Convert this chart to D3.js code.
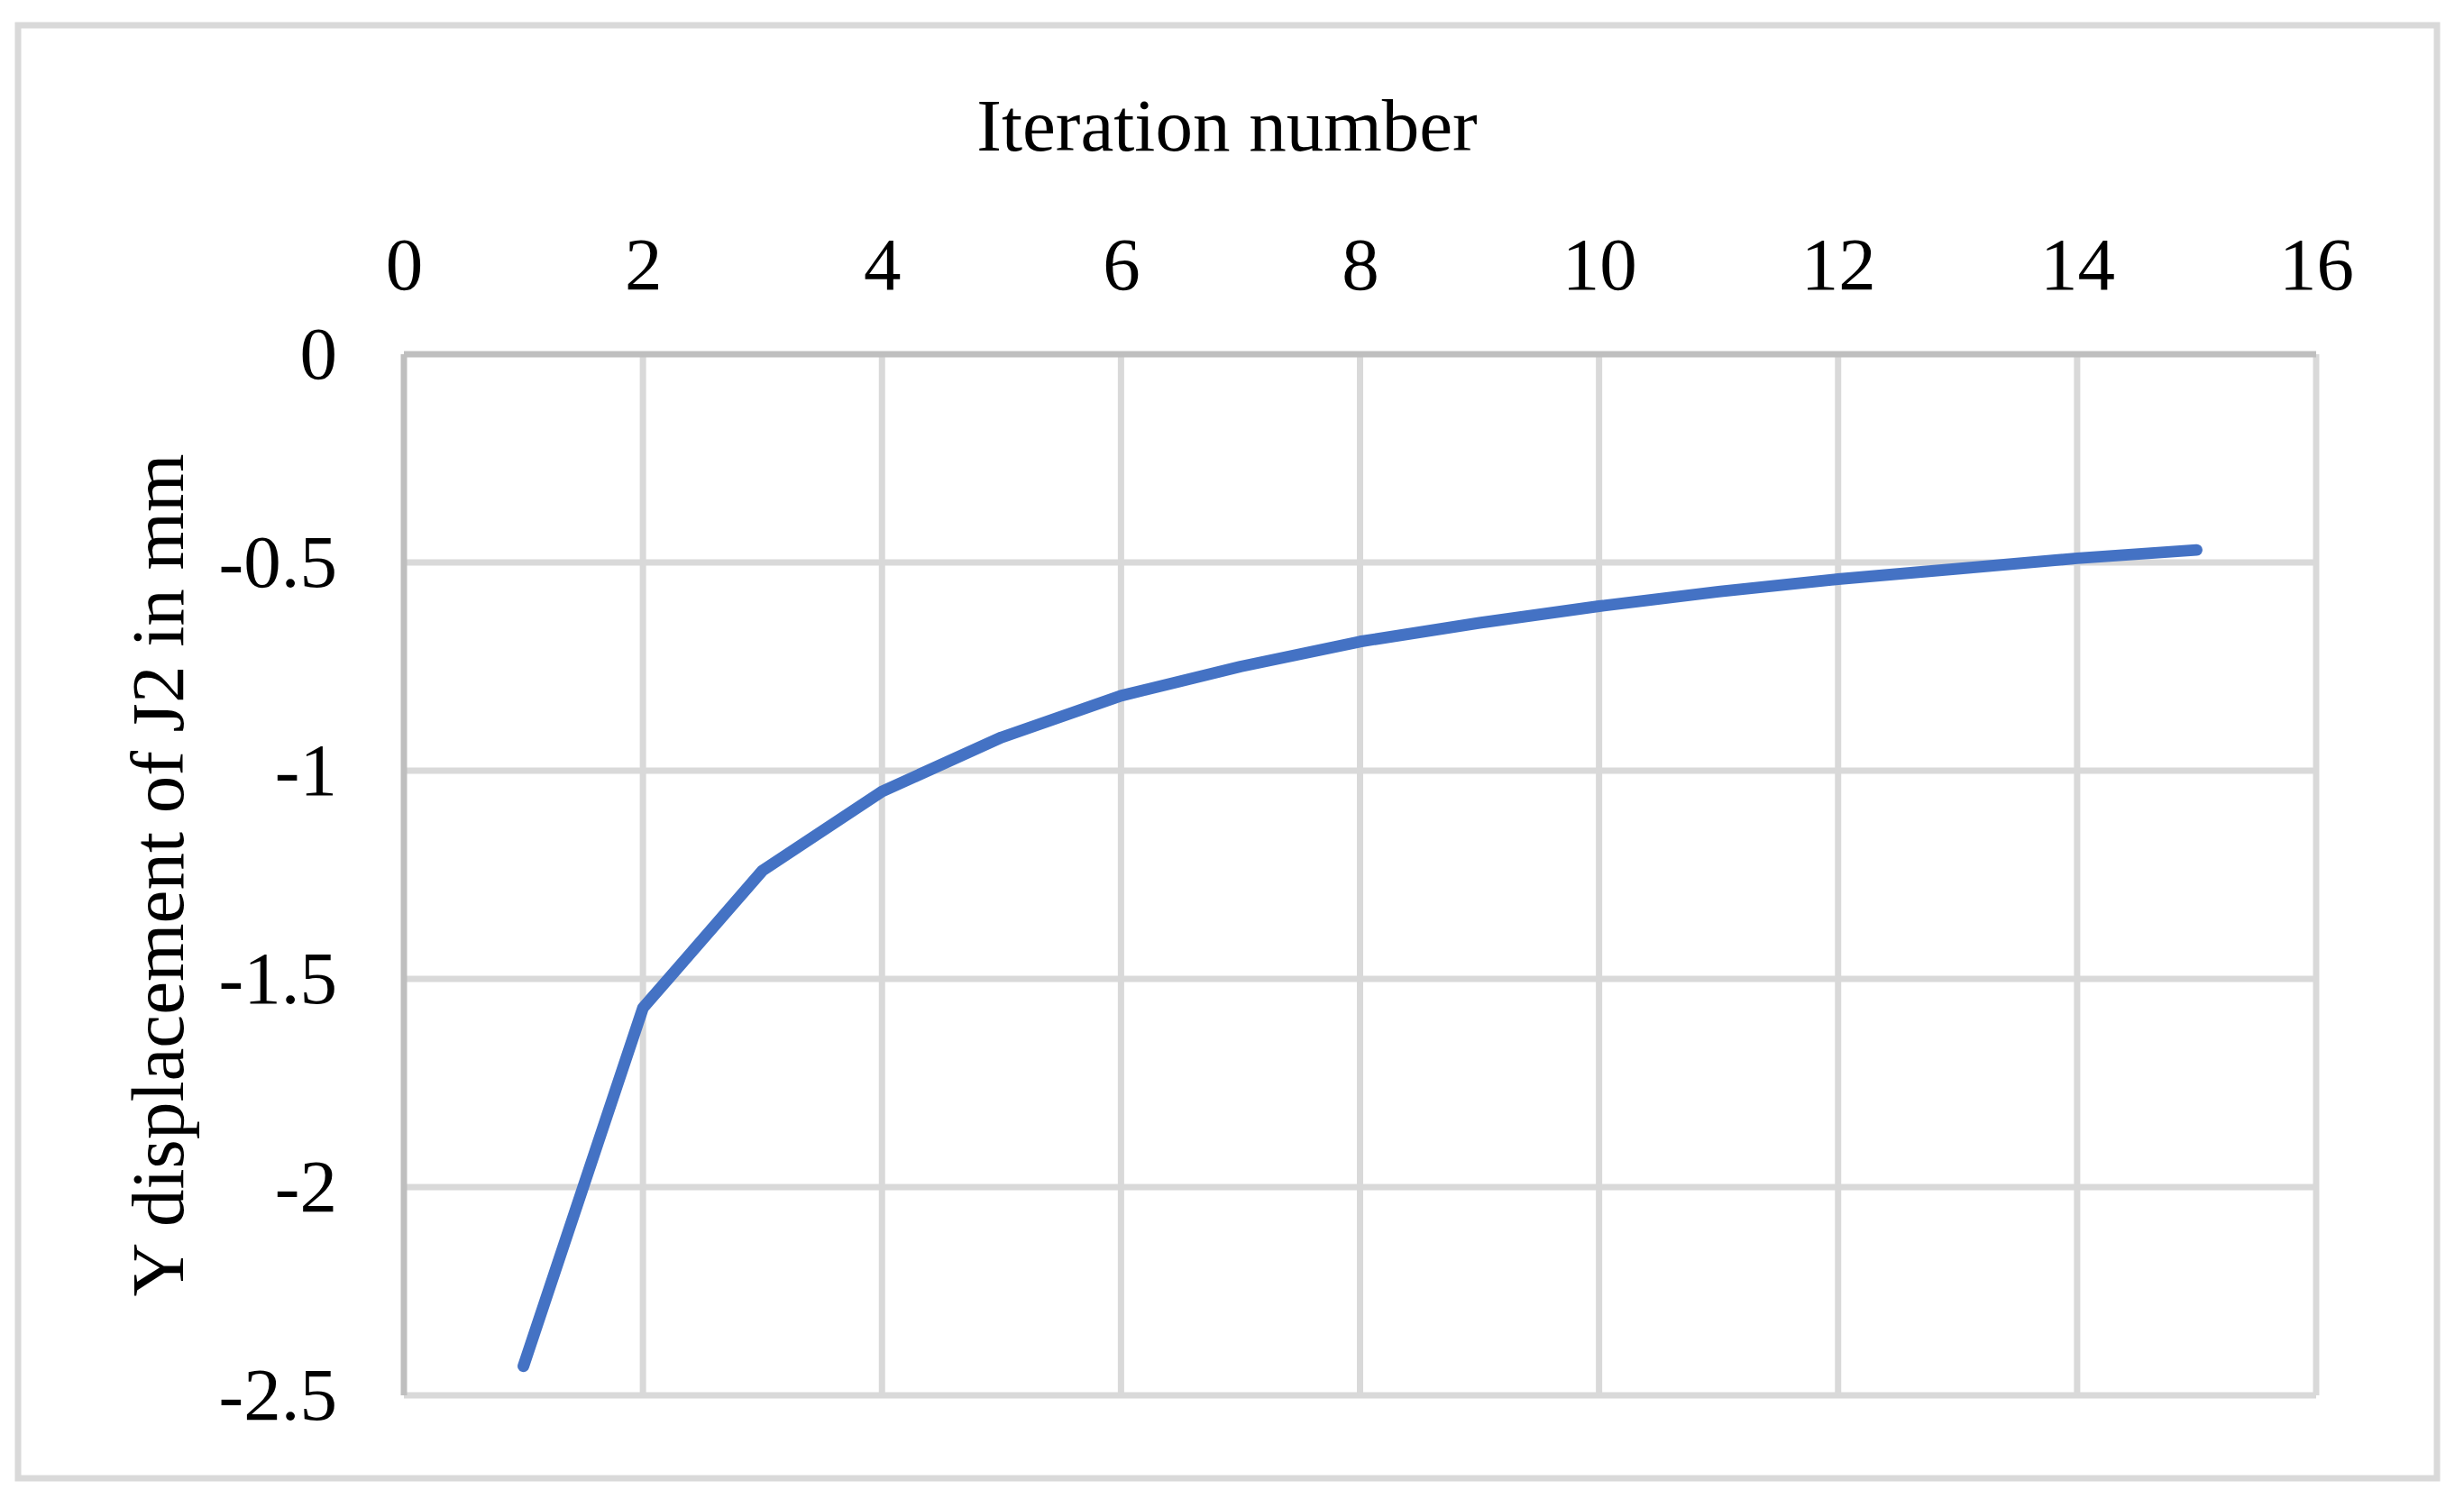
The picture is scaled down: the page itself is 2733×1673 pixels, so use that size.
<!DOCTYPE html>
<html>
<head>
<meta charset="utf-8">
<script src="https://cdn.jsdelivr.net/npm/d3@7"></script>
<style>
  html, body { margin: 0; padding: 0; background: #ffffff; }
  svg { display: block; }
  text { font-family: "Liberation Serif", "Times New Roman", serif; fill: #000; }
</style>
</head>
<body>
<svg id="chart" width="2733" height="1673"></svg>
<script>
// ---- data ----
const iterations = [1, 2, 3, 4, 5, 6, 7, 8, 9, 10, 11, 12, 13, 14, 15];
const yDisplacement = [-2.43, -1.57, -1.24, -1.05, -0.92, -0.82, -0.75, -0.69, -0.645, -0.605, -0.57, -0.54, -0.515, -0.49, -0.47];
const xTickValues = [0, 2, 4, 6, 8, 10, 12, 14, 16];
const yTickValues = [0, -0.5, -1, -1.5, -2, -2.5];
const xTitle = "Iteration number";
const yTitle = "Y displacement of J2 in mm";

// ---- layout ----
const W = 2733, H = 1673;
const plot = { left: 448, right: 2569, top: 393, bottom: 1548 };
const fontSize = 83;

const svg = d3.select("#chart");

svg.append("rect")
  .attr("x", 0).attr("y", 0).attr("width", W).attr("height", H)
  .attr("fill", "#ffffff");

// outer chart border
svg.append("rect")
  .attr("x", 20).attr("y", 28)
  .attr("width", 2703 - 20).attr("height", 1640 - 28)
  .attr("fill", "none")
  .attr("stroke", "#d9d9d9")
  .attr("stroke-width", 7);

const x = d3.scaleLinear().domain([0, 16]).range([plot.left, plot.right]);
const y = d3.scaleLinear().domain([-2.5, 0]).range([plot.bottom, plot.top]);

// gridlines
const grid = svg.append("g").attr("class", "grid");
grid.selectAll("line.v")
  .data(xTickValues.filter(d => d !== 0))
  .enter().append("line")
  .attr("class", "v")
  .attr("x1", d => x(d)).attr("x2", d => x(d))
  .attr("y1", plot.top).attr("y2", plot.bottom)
  .attr("stroke", "#d9d9d9").attr("stroke-width", 7);
grid.selectAll("line.h")
  .data(yTickValues.filter(d => d !== 0))
  .enter().append("line")
  .attr("class", "h")
  .attr("x1", plot.left).attr("x2", plot.right)
  .attr("y1", d => y(d)).attr("y2", d => y(d))
  .attr("stroke", "#d9d9d9").attr("stroke-width", 7);

// axis lines (darker)
svg.append("line")
  .attr("x1", plot.left).attr("x2", plot.left)
  .attr("y1", plot.top).attr("y2", plot.bottom)
  .attr("stroke", "#bfbfbf").attr("stroke-width", 7);
svg.append("line")
  .attr("x1", plot.left).attr("x2", plot.right)
  .attr("y1", plot.top).attr("y2", plot.top)
  .attr("stroke", "#bfbfbf").attr("stroke-width", 7);

// x axis on top
const xAxis = d3.axisTop(x).tickValues(xTickValues).tickSize(0).tickPadding(72)
  .tickFormat(d3.format("d"));
const gx = svg.append("g").attr("transform", `translate(0,${plot.top})`).call(xAxis);
gx.select(".domain").remove();
gx.selectAll("text")
  .attr("font-family", '"Liberation Serif", "Times New Roman", serif')
  .attr("font-size", fontSize).attr("fill", "#000");

// y axis on left
const yAxis = d3.axisLeft(y).tickValues(yTickValues).tickSize(0).tickPadding(74)
  .tickFormat(d => String(d));
const gy = svg.append("g").attr("transform", `translate(${plot.left},0)`).call(yAxis);
gy.select(".domain").remove();
gy.selectAll("text")
  .attr("font-family", '"Liberation Serif", "Times New Roman", serif')
  .attr("font-size", fontSize).attr("fill", "#000");

// data line
const pts = iterations.map((d, i) => [d, yDisplacement[i]]);
const line = d3.line().x(d => x(d[0])).y(d => y(d[1]));
svg.append("path")
  .datum(pts)
  .attr("d", line)
  .attr("fill", "none")
  .attr("stroke", "#4472c4")
  .attr("stroke-width", 13)
  .attr("stroke-linecap", "round")
  .attr("stroke-linejoin", "round");

// titles
svg.append("text")
  .attr("x", 1361).attr("y", 167)
  .attr("text-anchor", "middle")
  .attr("font-size", fontSize)
  .text(xTitle);

svg.append("text")
  .attr("transform", "translate(203,971) rotate(-90)")
  .attr("text-anchor", "middle")
  .attr("font-size", fontSize)
  .text(yTitle);
</script>
</body>
</html>
